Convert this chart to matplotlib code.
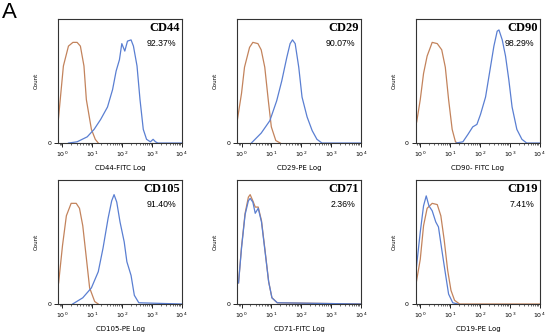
import numpy as np
import matplotlib.pyplot as plt
from matplotlib.ticker import LogLocator, FixedLocator

# markers, percent positives, x labels
markers = ['CD44', 'CD29', 'CD90', 'CD105', 'CD71', 'CD19']
percents = ['92.37%', '90.07%', '98.29%', '91.40%', '2.36%', '7.41%']
xlabels = ['CD44-FITC Log', 'CD29-PE Log', 'CD90- FITC Log',
           'CD105-PE Log', 'CD71-FITC Log', 'CD19-PE Log']

# histograms: log10(intensity), relative count
ctl_cd44_x = [-0.15, 0.03, 0.2, 0.35, 0.49, 0.6, 0.72, 0.8, 0.97, 1.1, 1.2]
ctl_cd44_y = [0.16, 0.62, 0.78, 0.81, 0.81, 0.78, 0.62, 0.35, 0.11, 0.03, 0.0]
smp_cd44_x = [0.2, 0.49, 0.83, 1.06, 1.28, 1.51, 1.68, 1.8, 1.91, 1.99, 2.09,
              2.18, 2.3, 2.38, 2.5, 2.6, 2.71, 2.82, 2.95, 3.04, 3.12, 3.2, 4.0]
smp_cd44_y = [0.0, 0.01, 0.05, 0.11, 0.19, 0.29, 0.43, 0.58, 0.67, 0.80, 0.74,
              0.82, 0.83, 0.78, 0.62, 0.35, 0.11, 0.03, 0.01, 0.03, 0.01, 0.0, 0.0]

ctl_cd29_x = [-0.15, 0.0, 0.1, 0.27, 0.38, 0.55, 0.66, 0.78, 0.9, 1.0, 1.15, 1.3]
ctl_cd29_y = [0.17, 0.40, 0.61, 0.77, 0.81, 0.80, 0.75, 0.61, 0.34, 0.13, 0.02, 0.0]
smp_cd29_x = [0.33, 0.66, 0.95, 1.18, 1.35, 1.52, 1.63, 1.71, 1.8, 1.92, 2.03,
              2.2, 2.37, 2.53, 2.7, 4.0]
smp_cd29_y = [0.0, 0.08, 0.18, 0.34, 0.50, 0.69, 0.80, 0.83, 0.80, 0.61, 0.37,
              0.21, 0.10, 0.03, 0.0, 0.0]

ctl_cd90_x = [-0.12, 0.0, 0.11, 0.23, 0.4, 0.57, 0.72, 0.84, 0.95, 1.07, 1.18, 1.25]
ctl_cd90_y = [0.17, 0.35, 0.56, 0.70, 0.81, 0.80, 0.75, 0.61, 0.35, 0.11, 0.01, 0.0]
smp_cd90_x = [1.2, 1.43, 1.6, 1.76, 1.9, 2.02, 2.19, 2.32, 2.47, 2.58, 2.64,
              2.75, 2.86, 2.97, 3.08, 3.24, 3.41, 3.57, 4.0]
smp_cd90_y = [0.0, 0.01, 0.07, 0.13, 0.15, 0.23, 0.37, 0.56, 0.78, 0.90, 0.91,
              0.83, 0.70, 0.51, 0.29, 0.11, 0.03, 0.0, 0.0]

ctl_cd105_x = [-0.13, 0.0, 0.13, 0.29, 0.46, 0.57, 0.68, 0.8, 0.91, 1.08, 1.2]
ctl_cd105_y = [0.17, 0.47, 0.71, 0.81, 0.81, 0.77, 0.63, 0.37, 0.13, 0.02, 0.0]
smp_cd105_x = [0.34, 0.68, 0.97, 1.2, 1.36, 1.53, 1.65, 1.73, 1.82, 1.93, 2.07,
               2.16, 2.3, 2.41, 2.56, 4.0]
smp_cd105_y = [0.0, 0.05, 0.13, 0.26, 0.45, 0.69, 0.83, 0.88, 0.82, 0.66, 0.50,
               0.34, 0.23, 0.07, 0.01, 0.0]

ctl_cd71_x = [-0.1, 0.0, 0.12, 0.23, 0.29, 0.38, 0.46, 0.56, 0.67, 0.79, 0.91,
              1.02, 1.2, 4.0]
ctl_cd71_y = [0.17, 0.46, 0.73, 0.86, 0.88, 0.83, 0.78, 0.78, 0.67, 0.43, 0.18,
              0.05, 0.01, 0.0]
smp_cd71_x = [-0.1, 0.0, 0.12, 0.23, 0.29, 0.38, 0.46, 0.56, 0.67, 0.79, 0.91,
              1.02, 1.2, 4.0]
smp_cd71_y = [0.17, 0.45, 0.72, 0.83, 0.85, 0.82, 0.73, 0.77, 0.66, 0.42, 0.18,
              0.05, 0.01, 0.0]

ctl_cd19_x = [-0.15, 0.0, 0.11, 0.23, 0.4, 0.57, 0.69, 0.8, 0.92, 1.03, 1.15, 1.32, 4.0]
ctl_cd19_y = [0.15, 0.36, 0.63, 0.77, 0.81, 0.80, 0.71, 0.52, 0.27, 0.11, 0.03, 0.0, 0.0]
smp_cd19_x = [-0.15, 0.0, 0.11, 0.2, 0.29, 0.4, 0.52, 0.61, 0.72, 0.84, 0.95,
              1.09, 1.26]
smp_cd19_y = [0.25, 0.58, 0.79, 0.87, 0.79, 0.75, 0.66, 0.62, 0.44, 0.25, 0.08,
              0.01, 0.0]

controls = [(ctl_cd44_x, ctl_cd44_y), (ctl_cd29_x, ctl_cd29_y), (ctl_cd90_x, ctl_cd90_y),
            (ctl_cd105_x, ctl_cd105_y), (ctl_cd71_x, ctl_cd71_y), (ctl_cd19_x, ctl_cd19_y)]
samples = [(smp_cd44_x, smp_cd44_y), (smp_cd29_x, smp_cd29_y), (smp_cd90_x, smp_cd90_y),
           (smp_cd105_x, smp_cd105_y), (smp_cd71_x, smp_cd71_y), (smp_cd19_x, smp_cd19_y)]

fig = plt.figure(figsize=(5.5, 3.35), dpi=100)

lefts = [0.1055, 0.431, 0.756]
bottoms = [0.573, 0.0925]
w, h = 0.226, 0.371

for i in range(6):
    r, c = divmod(i, 3)
    ax = fig.add_axes([lefts[c], bottoms[r], w, h])
    cx, cy = controls[i]
    sx, sy = samples[i]
    ax.plot(10 ** np.array(cx), cy, color='#c3835c', lw=0.9)
    ax.plot(10 ** np.array(sx), sy, color='#5a7fd2', lw=0.9)
    ax.set_xscale('log')
    ax.set_xlim(10 ** -0.15, 10 ** 4.02)
    ax.set_ylim(0, 1.0)
    ax.xaxis.set_major_locator(FixedLocator([1, 10, 100, 1000, 10000]))
    ax.xaxis.set_minor_locator(LogLocator(base=10, subs=np.arange(2, 10)))
    ax.set_yticks([0])
    ax.set_yticklabels(['0'])
    ax.tick_params(axis='x', which='major', labelsize=4.5, length=3, width=0.6, pad=2)
    ax.tick_params(axis='x', which='minor', length=1.5, width=0.4)
    ax.tick_params(axis='y', labelsize=4.5, length=3, width=0.6, pad=2)
    for sp in ax.spines.values():
        sp.set_linewidth(0.8)
        sp.set_color('#333333')
    ax.set_xlabel(xlabels[i], fontsize=5, labelpad=4)
    ax.set_ylabel('Count', fontsize=4, labelpad=6)
    ax.text(0.98, 0.97, markers[i], transform=ax.transAxes, ha='right', va='top',
            fontsize=9, fontweight='bold', family='Liberation Serif')
    ax.text(0.95, 0.80, percents[i], transform=ax.transAxes, ha='right', va='center',
            fontsize=6.3, family='Liberation Sans')

fig.text(0.004, 0.995, 'A', fontsize=16, ha='left', va='top', family='Liberation Sans')

fig.savefig('out.png', dpi=100)
